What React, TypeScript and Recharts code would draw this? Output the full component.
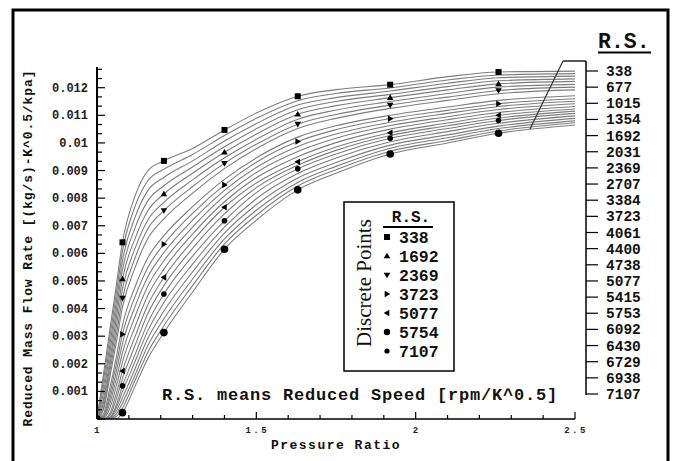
import React from 'react';
import { ComposedChart, Line, Scatter, XAxis, YAxis, Label } from 'recharts';

// pressure ratio sampling used for every speed line
const PRESSURE_RATIO = [1, 1.02, 1.04, 1.06, 1.08, 1.12, 1.16, 1.21, 1.3, 1.4, 1.5, 1.63, 1.75, 1.92, 2.1, 2.26, 2.5];

// reduced mass flow, in 0.001 (kg/s)-K^0.5/kpa
const FLOW_338 = [0, 1.6, 3.2, 4.8, 6.4, 8.1, 9.0, 9.35, 9.8, 10.47, 11.08, 11.69, 11.93, 12.11, 12.4, 12.57, 12.6];
const FLOW_677 = [0, 1.38, 2.93, 4.5, 6.07, 7.72, 8.64, 9.05, 9.58, 10.27, 10.89, 11.53, 11.79, 11.99, 12.28, 12.46, 12.51];
const FLOW_1015 = [0, 1.15, 2.65, 4.2, 5.74, 7.33, 8.28, 8.75, 9.35, 10.07, 10.7, 11.37, 11.64, 11.88, 12.16, 12.36, 12.42];
const FLOW_1354 = [0, 0.93, 2.38, 3.9, 5.4, 6.94, 7.91, 8.45, 9.13, 9.86, 10.51, 11.2, 11.5, 11.76, 12.04, 12.25, 12.32];
const FLOW_1692 = [0, 0.7, 2.1, 3.6, 5.07, 6.55, 7.55, 8.15, 8.9, 9.66, 10.32, 11.04, 11.35, 11.64, 11.92, 12.14, 12.23];
const FLOW_2031 = [0, 0.55, 1.9, 3.3, 4.72, 6.2, 7.22, 7.85, 8.66, 9.46, 10.13, 10.86, 11.19, 11.5, 11.79, 12.02, 12.12];
const FLOW_2369 = [0, 0.4, 1.7, 3.0, 4.38, 5.85, 6.9, 7.55, 8.42, 9.26, 9.95, 10.68, 11.03, 11.37, 11.66, 11.9, 12.02];
const FLOW_2707 = [0, 0.33, 1.5, 2.74, 4.05, 5.5, 6.55, 7.25, 8.18, 9.07, 9.79, 10.52, 10.89, 11.25, 11.54, 11.78, 11.92];
const FLOW_3384 = [0, 0.18, 1.1, 2.21, 3.4, 4.8, 5.85, 6.64, 7.69, 8.68, 9.46, 10.21, 10.62, 11.0, 11.3, 11.54, 11.71];
const FLOW_3723 = [0, 0.1, 0.9, 1.95, 3.07, 4.45, 5.5, 6.33, 7.45, 8.48, 9.3, 10.05, 10.48, 10.88, 11.18, 11.42, 11.6];
const FLOW_4061 = [0, 0.07, 0.72, 1.69, 2.74, 4.09, 5.16, 6.03, 7.2, 8.28, 9.11, 9.87, 10.32, 10.75, 11.07, 11.32, 11.51];
const FLOW_4400 = [0, 0.05, 0.55, 1.43, 2.4, 3.73, 4.83, 5.73, 6.95, 8.08, 8.93, 9.69, 10.17, 10.63, 10.95, 11.21, 11.42];
const FLOW_4738 = [0, 0.02, 0.38, 1.16, 2.07, 3.36, 4.49, 5.43, 6.7, 7.87, 8.74, 9.5, 10.01, 10.5, 10.84, 11.1, 11.32];
const FLOW_5077 = [0, 0, 0.2, 0.9, 1.74, 3.0, 4.15, 5.13, 6.45, 7.67, 8.55, 9.32, 9.85, 10.37, 10.72, 11.0, 11.23];
const FLOW_5415 = [0, 0, 0.12, 0.7, 1.47, 2.68, 3.83, 4.83, 6.18, 7.43, 8.38, 9.19, 9.73, 10.27, 10.62, 10.9, 11.15];
const FLOW_5753 = [0, 0, 0.05, 0.5, 1.2, 2.35, 3.5, 4.53, 5.9, 7.18, 8.2, 9.06, 9.6, 10.17, 10.52, 10.81, 11.07];
const FLOW_6092 = [0, 0, 0.04, 0.39, 0.99, 2.1, 3.21, 4.22, 5.61, 6.95, 7.98, 8.89, 9.45, 10.04, 10.41, 10.71, 10.98];
const FLOW_6430 = [0, 0, 0.03, 0.28, 0.77, 1.84, 2.93, 3.91, 5.33, 6.73, 7.76, 8.73, 9.29, 9.92, 10.29, 10.61, 10.89];
const FLOW_6729 = [0, 0, 0.02, 0.18, 0.58, 1.61, 2.67, 3.63, 5.07, 6.52, 7.56, 8.57, 9.15, 9.81, 10.19, 10.52, 10.8];
const FLOW_6938 = [0, 0, 0.01, 0.09, 0.4, 1.41, 2.43, 3.38, 4.83, 6.34, 7.38, 8.44, 9.03, 9.7, 10.09, 10.43, 10.73];
const FLOW_7107 = [0, 0, 0, 0, 0.23, 1.2, 2.2, 3.13, 4.6, 6.15, 7.2, 8.3, 8.9, 9.6, 10.0, 10.35, 10.65];

const SPEED_LABELS = ['338', '677', '1015', '1354', '1692', '2031', '2369', '2707', '3384', '3723', '4061',
  '4400', '4738', '5077', '5415', '5753', '6092', '6430', '6729', '6938', '7107'];

const CURVES = [FLOW_338, FLOW_677, FLOW_1015, FLOW_1354, FLOW_1692, FLOW_2031, FLOW_2369, FLOW_2707,
  FLOW_3384, FLOW_3723, FLOW_4061, FLOW_4400, FLOW_4738, FLOW_5077, FLOW_5415, FLOW_5753, FLOW_6092,
  FLOW_6430, FLOW_6729, FLOW_6938, FLOW_7107];

// discrete points
const POINT_X = [1, 1.08, 1.21, 1.4, 1.63, 1.92, 2.26];
const PTS_338 = [0, 6.4, 9.35, 10.47, 11.69, 12.11, 12.57];
const PTS_1692 = [0, 5.07, 8.15, 9.66, 11.04, 11.64, 12.14];
const PTS_2369 = [0, 4.38, 7.55, 9.26, 10.68, 11.37, 11.9];
const PTS_3723 = [0, 3.07, 6.33, 8.48, 10.05, 10.88, 11.42];
const PTS_5077 = [0, 1.74, 5.13, 7.67, 9.32, 10.37, 11.0];
const PTS_5754 = [0, 1.2, 4.53, 7.18, 9.06, 10.17, 10.81];
const PTS_7107 = [0, 0.23, 3.13, 6.15, 8.3, 9.6, 10.35];

const POINT_SERIES = [
  { label: '338', kind: 'square', values: PTS_338 },
  { label: '1692', kind: 'up', values: PTS_1692 },
  { label: '2369', kind: 'down', values: PTS_2369 },
  { label: '3723', kind: 'right', values: PTS_3723 },
  { label: '5077', kind: 'left', values: PTS_5077 },
  { label: '5754', kind: 'hex', values: PTS_5754 },
  { label: '7107', kind: 'dot', values: PTS_7107 },
];

const X_TICKS = [1, 1.1, 1.2, 1.3, 1.4, 1.5, 1.6, 1.7, 1.8, 1.9, 2, 2.1, 2.2, 2.3, 2.4, 2.5];
const X_LABELS: Record<string, string> = { '1': '1', '1.5': '1.5', '2': '2', '2.5': '2.5' };
const Y_LABELS = ['0.001', '0.002', '0.003', '0.004', '0.005', '0.006', '0.007', '0.008', '0.009', '0.01', '0.011', '0.012'];

const yTicks: number[] = [];
for (let k = 0; k <= 38; k++) yTicks.push(k / 3);

const rows = PRESSURE_RATIO.map((x, j) => {
  const row: Record<string, number> = { x };
  CURVES.forEach((c, i) => { row['c' + i] = c[j]; });
  return row;
});

const MONO = '"Liberation Mono", "Courier New", monospace';

function Mark({ kind, cx, cy, plot }: { kind: string; cx: number; cy: number; plot?: boolean }) {
  const s = 3.3;
  switch (kind) {
    case 'square':
      return <rect x={cx - 3} y={cy - 3} width={6} height={6} fill="#000" />;
    case 'up':
      return <polygon points={`${cx},${cy - s} ${cx + s},${cy + s * 0.7} ${cx - s},${cy + s * 0.7}`} fill="#000" />;
    case 'down':
      return <polygon points={`${cx},${cy + s} ${cx + s},${cy - s * 0.7} ${cx - s},${cy - s * 0.7}`} fill="#000" />;
    case 'right':
      return <polygon points={`${cx + s},${cy} ${cx - s * 0.7},${cy - s} ${cx - s * 0.7},${cy + s}`} fill="#000" />;
    case 'left':
      return <polygon points={`${cx - s},${cy} ${cx + s * 0.7},${cy - s} ${cx + s * 0.7},${cy + s}`} fill="#000" />;
    case 'hex':
      return <circle cx={cx} cy={cy} r={plot ? 2.8 : 3.2} fill="#000" />;
    default:
      return <circle cx={cx} cy={cy} r={plot ? 3.8 : 2.6} fill="#000" />;
  }
}

const YTick = (props: any) => {
  const { x, y, payload } = props;
  const v = payload.value;
  const major = Math.abs(v - Math.round(v)) < 1e-6;
  const idx = Math.round(v) - 1;
  return (
    <g>
      <line x1={x} x2={x + (major ? 8 : 5)} y1={y} y2={y} stroke="#000" strokeWidth={1.2} />
      {major && idx >= 0 && (
        <text x={x - 9} y={y} dy={4} textAnchor="end" fontFamily={MONO} fontWeight="bold" fontSize={12} fill="#222">
          {Y_LABELS[idx]}
        </text>
      )}
    </g>
  );
};

const XTick = (props: any) => {
  const { x, y, payload } = props;
  const key = String(payload.value);
  const label = X_LABELS[key];
  return (
    <g>
      <line x1={x} x2={x} y1={y} y2={y - (label ? 7 : 4)} stroke="#000" strokeWidth={1.2} />
      {label && (
        <text x={x + 1} y={y + 14} textAnchor="middle" fontFamily={MONO} fontWeight="bold" fontSize={9}
          letterSpacing={2.5} fill="#222">
          {label}
        </text>
      )}
    </g>
  );
};

export default function App() {
  return (
    <div style={{ position: 'fixed', left: 0, top: 0, width: 675, height: 461, background: '#fff' }}>
      <ComposedChart width={675} height={461} data={rows} margin={{ top: 67, right: 100, left: 10, bottom: 12 }}>
        <XAxis dataKey="x" type="number" domain={[1, 2.5]} ticks={X_TICKS} interval={0} tickSize={0} tickMargin={0}
          tick={<XTick />} tickLine={false} axisLine={{ stroke: '#000', strokeWidth: 1.5 }} height={30} allowDataOverflow>
          <Label content={(p: any) => {
            const vb = p.viewBox;
            return (
              <text x={vb.x + vb.width / 2} y={vb.y + 30} textAnchor="middle" fontFamily={MONO} fontWeight="bold"
                fontSize={13} letterSpacing={1.5} fill="#111">Pressure Ratio</text>
            );
          }} />
        </XAxis>
        <YAxis type="number" domain={[0, 12.75]} ticks={yTicks} interval={0} tickSize={0} tickMargin={0}
          tick={<YTick />} tickLine={false} axisLine={{ stroke: '#000', strokeWidth: 2 }} width={87} allowDataOverflow>
          <Label content={(p: any) => {
            const vb = p.viewBox;
            const cx = vb.x + 18;
            const cy = vb.y + vb.height / 2 + 5;
            return (
              <text x={cx} y={cy} transform={`rotate(-90 ${cx} ${cy})`} textAnchor="middle" dominantBaseline="central"
                fontFamily={MONO} fontWeight="bold" fontSize={13} letterSpacing={0.9} fill="#111">
                Reduced Mass Flow Rate [(kg/s)-K^0.5/kpa]
              </text>
            );
          }} />
        </YAxis>
        {CURVES.map((_, i) => (
          <Line key={SPEED_LABELS[i]} dataKey={'c' + i} type="monotone" stroke="#7d7d7d" strokeWidth={1.1}
            dot={false} activeDot={false} isAnimationActive={false} />
        ))}
        {POINT_SERIES.map((s) => (
          <Scatter key={s.label} data={POINT_X.map((x, j) => ({ x, y: s.values[j] }))} dataKey="y"
            isAnimationActive={false}
            shape={(p: any) => <Mark kind={s.kind} cx={p.cx} cy={p.cy} plot />} />
        ))}
      </ComposedChart>

      <svg width={675} height={461} style={{ position: 'absolute', left: 0, top: 0, pointerEvents: 'none' }}>
        <rect x={13} y={10} width={655} height={470} fill="none" stroke="#000" strokeWidth={3} />

        {/* speed key on the right */}
        <text x={598} y={48} fontFamily={MONO} fontWeight="bold" fontSize={21.5} fill="#111">R.S.</text>
        <line x1={598} x2={651} y1={52.5} y2={52.5} stroke="#000" strokeWidth={2} />
        <line x1={563} x2={586} y1={61} y2={61} stroke="#000" strokeWidth={1.3} />
        <line x1={563} x2={530} y1={61} y2={129} stroke="#333" strokeWidth={1.2} />
        <line x1={586} x2={586} y1={61} y2={395} stroke="#000" strokeWidth={1.5} />
        {SPEED_LABELS.map((s, i) => {
          const y = 71 + i * 16.15;
          return (
            <g key={s}>
              <line x1={586} x2={598} y1={y} y2={y} stroke="#000" strokeWidth={1.2} />
              <text x={606} y={y + 5} fontFamily={MONO} fontWeight="bold" fontSize={14.5} fill="#111">{s}</text>
            </g>
          );
        })}

        <text x={162} y={400} fontFamily={MONO} fontWeight="bold" fontSize={17} letterSpacing={0.8} fill="#111">
          R.S. means Reduced Speed [rpm/K^0.5]
        </text>

        {/* discrete points key */}
        <rect x={344} y={202} width={110} height={169} fill="#fff" stroke="#000" strokeWidth={1.5} />
        <text x={411} y={222} textAnchor="middle" fontFamily={MONO} fontWeight="bold" fontSize={16} fill="#111">R.S.</text>
        <line x1={383} x2={433} y1={227} y2={227} stroke="#000" strokeWidth={2} />
        <text x={364} y={283} transform="rotate(-90 364 283)" textAnchor="middle" dominantBaseline="central"
          fontFamily='"Liberation Serif", "Times New Roman", serif' fontSize={21} fill="#111">Discrete Points</text>
        {POINT_SERIES.map((s, i) => {
          const y = 237 + i * 19;
          return (
            <g key={s.label}>
              <Mark kind={s.kind} cx={387} cy={y} />
              <text x={399} y={y + 5.5} fontFamily={MONO} fontWeight="bold" fontSize={16.5} fill="#111">{s.label}</text>
            </g>
          );
        })}
      </svg>
    </div>
  );
}
